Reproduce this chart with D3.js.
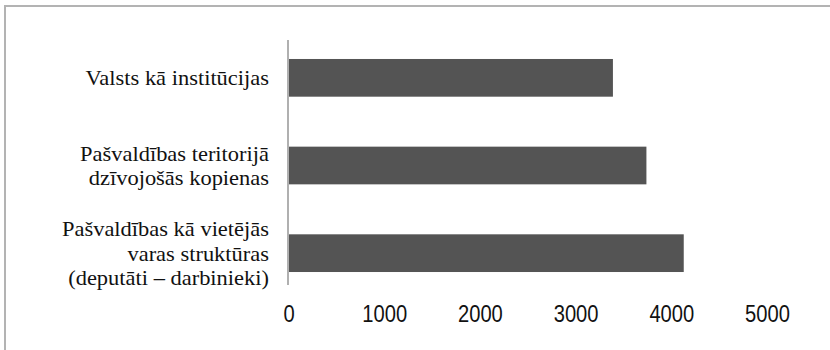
<!DOCTYPE html>
<html><head><meta charset="utf-8">
<script src="https://cdn.jsdelivr.net/npm/d3@7"></script>
<style>body{margin:0;background:#fff}svg{display:block}
.lab{font-family:"Liberation Serif","Times New Roman",Times,"DejaVu Serif",serif;}
.tk{font-family:"Liberation Sans",Arial,Helvetica,sans-serif;}
</style>
</head><body>
<svg id="c" width="830" height="350"></svg>
<script>
const categories = [
  ["Valsts kā institūcijas"],
  ["Pašvaldības teritorijā", "dzīvojošās kopienas"],
  ["Pašvaldības kā vietējās", "varas struktūras", "(deputāti – darbinieki)"]
];
const values = [3390, 3740, 4130];
const xTicks = [0, 1000, 2000, 3000, 4000, 5000];

const svg = d3.select("#c");
svg.append("rect").attr("x", 5).attr("y", 6).attr("width", 900).attr("height", 400)
  .attr("fill", "#fff").attr("stroke", "#b3b3b3").attr("stroke-width", 2);

const x = d3.scaleLinear().domain([0, 5000]).range([288.5, 767]);
const y = d3.scaleBand().domain(d3.range(categories.length)).range([34, 297]).paddingInner(0.57).paddingOuter(0.285);

svg.selectAll("rect.bar").data(values).join("rect").attr("class", "bar")
  .attr("x", x(0)).attr("y", (d, i) => y(i)).attr("width", d => x(d) - x(0)).attr("height", y.bandwidth())
  .attr("fill", "#545454");

svg.append("line").attr("x1", 288).attr("x2", 288).attr("y1", 40).attr("y2", 285)
  .attr("stroke", "#b0b0b0").attr("stroke-width", 2);

const xAxis = d3.axisBottom(x).tickValues(xTicks).tickSize(0).tickPadding(0).tickFormat(d3.format("d"));
const gx = svg.append("g").attr("transform", "translate(0,305)").call(xAxis);
gx.select(".domain").remove();
gx.attr("font-family", null).attr("font-size", null);
gx.selectAll(".tick text").attr("class", "tk").attr("font-size", 24)
  .attr("fill", "#111").attr("dy", "0.71em").attr("transform", "scale(0.84,1)");

const lh = 24.5;
const lab = svg.append("g");
categories.forEach((lines, i) => {
  const cy = y(i) + y.bandwidth() / 2;
  const t = lab.append("text").attr("class", "lab").attr("text-anchor", "end")
    .attr("font-size", 21)
    .attr("fill", "#111").attr("transform", `translate(269,0) scale(1.07,1)`);
  lines.forEach((s, j) => {
    t.append("tspan").attr("x", 0).attr("y", cy + (j - (lines.length - 1) / 2) * lh).attr("dy", "0.35em").text(s);
  });
});
</script>
</body></html>
